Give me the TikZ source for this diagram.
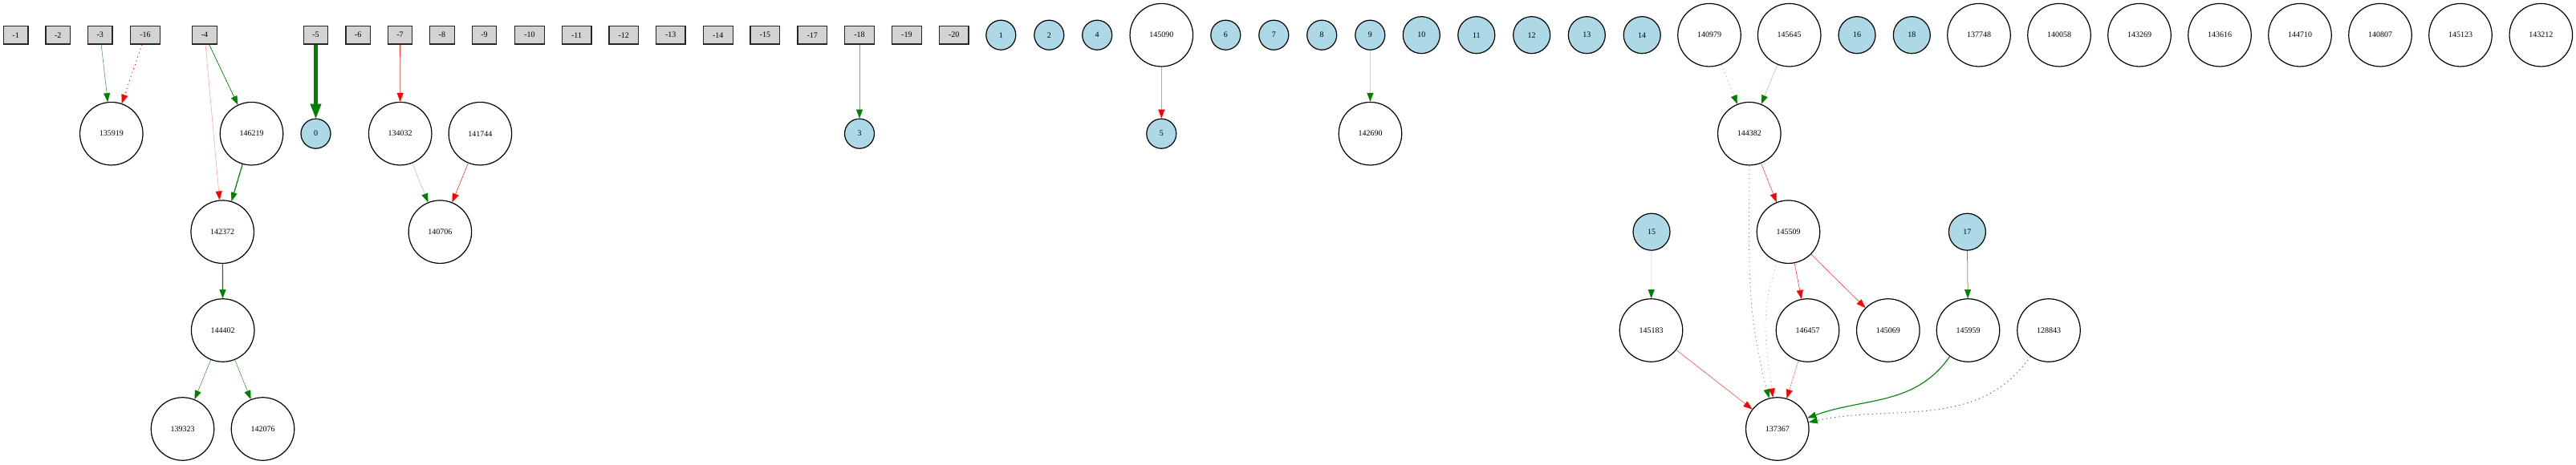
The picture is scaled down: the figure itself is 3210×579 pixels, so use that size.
\documentclass[tikz,border=0pt]{standalone}
\usepackage{fontspec}
\setmainfont{Liberation Serif}
\usetikzlibrary{arrows.meta}
\definecolor{ggreen}{HTML}{008000}
\definecolor{rred}{HTML}{FF0000}
\definecolor{lgray}{HTML}{D3D3D3}
\definecolor{lblue}{HTML}{ADD8E6}
\tikzset{
 every node/.style={font=\fontsize{10}{12}\selectfont, inner sep=0pt},
 inbox/.style={rectangle, draw=black!85, line width=1.3pt, fill=lgray, minimum width=30.5pt, minimum height=22.5pt},
 inboxw/.style={inbox, minimum width=36.7pt},
 outn/.style={circle, draw=black, line width=1.2pt, fill=lblue, minimum size=37pt},
 outw/.style={outn, minimum size=46pt},
 hid/.style={circle, draw=black, line width=1.2pt, fill=white, minimum size=78.5pt},
 ge/.style={draw=ggreen!#1, line width=0.6pt, -{Triangle[length=11pt,width=8pt,line width=0.4pt,color=ggreen]}},
 ge/.default=100,
 re/.style={draw=rred!#1, line width=0.6pt, -{Triangle[length=11pt,width=8pt,line width=0.4pt,color=rred]}},
 re/.default=100,
 dots/.style={dash pattern=on 1.2pt off 4pt},
}
\begin{document}
\begin{tikzpicture}[x=1pt,y=-1pt]
\useasboundingbox (0,0) rectangle (3210,579);
% input boxes
\node[inbox] (m1) at (19.6,43.7) {-1};
\node[inbox] (m2) at (72.3,43.7) {-2};
\node[inbox] (m3) at (124.8,43.7) {-3};
\node[inboxw] (m16) at (181,43.7) {-16};
\node[inbox] (m4) at (255,43.7) {-4};
\node[inbox] (m5) at (393.5,43.7) {-5};
\node[inbox] (m6) at (446.1,43.7) {-6};
\node[inbox] (m7) at (498.5,43.7) {-7};
\node[inbox] (m8) at (550.9,43.7) {-8};
\node[inbox] (m9) at (603.5,43.7) {-9};
\node[inboxw] (m10) at (660,43.7) {-10};
\node[inboxw] (m11) at (718.6,43.7) {-11};
\node[inboxw] (m12) at (777.2,43.7) {-12};
\node[inboxw] (m13) at (835.7,43.7) {-13};
\node[inboxw] (m14) at (894.8,43.7) {-14};
\node[inboxw] (m15) at (953.4,43.7) {-15};
\node[inboxw] (m17) at (1012.2,43.7) {-17};
\node[inboxw] (m18) at (1071,43.7) {-18};
\node[inboxw] (m19) at (1129.9,43.7) {-19};
\node[inboxw] (m20) at (1188.7,43.7) {-20};
% top row outputs and hidden
\node[outn] (o1) at (1247.3,43.7) {1};
\node[outn] (o2) at (1307.3,43.7) {2};
\node[outn] (o4) at (1367.2,43.7) {4};
\node[hid] (h145090) at (1447.3,43.7) {145090};
\node[outn] (o6) at (1527.3,43.7) {6};
\node[outn] (o7) at (1587.3,43.7) {7};
\node[outn] (o8) at (1647.2,43.7) {8};
\node[outn] (o9) at (1707.3,43.7) {9};
\node[outw] (o10) at (1771.3,43.7) {10};
\node[outw] (o11) at (1839.8,43.7) {11};
\node[outw] (o12) at (1908.7,43.7) {12};
\node[outw] (o13) at (1977.3,43.7) {13};
\node[outw] (o14) at (2046.2,43.7) {14};
\node[hid] (h140979) at (2130,43.7) {140979};
\node[hid] (h145645) at (2229.7,43.7) {145645};
\node[outw] (o16) at (2314,43.7) {16};
\node[outw] (o18) at (2382.3,43.7) {18};
\node[hid] (h137748) at (2466,43.7) {137748};
\node[hid] (h140058) at (2566,43.7) {140058};
\node[hid] (h143269) at (2666,43.7) {143269};
\node[hid] (h143616) at (2766,43.7) {143616};
\node[hid] (h144710) at (2866,43.7) {144710};
\node[hid] (h140807) at (2966,43.7) {140807};
\node[hid] (h145123) at (3066,43.7) {145123};
\node[hid] (h143212) at (3166.3,43.7) {143212};
% row 1
\node[hid] (h135919) at (138.8,166.7) {135919};
\node[hid] (h146219) at (313.5,166.7) {146219};
\node[outn] (o0) at (393.5,166.7) {0};
\node[hid] (h134032) at (498.7,166.7) {134032};
\node[hid] (h141744) at (598.4,166.7) {141744};
\node[outn] (o3) at (1071,166.7) {3};
\node[outn] (o5) at (1447.3,166.7) {5};
\node[hid] (h142690) at (1707.5,166.7) {142690};
\node[hid] (h144382) at (2179.8,166.7) {144382};
% row 2
\node[hid] (h142372) at (277.2,289.2) {142372};
\node[hid] (h140706) at (548.4,289.2) {140706};
\node[outw] (o15) at (2058,289.2) {15};
\node[hid] (h145509) at (2228.5,289.2) {145509};
\node[outw] (o17) at (2451.4,289.2) {17};
% row 3
\node[hid] (h144402) at (277.7,412) {144402};
\node[hid] (h145183) at (2057.5,412) {145183};
\node[hid] (h146457) at (2252.5,412) {146457};
\node[hid] (h145069) at (2352.8,412) {145069};
\node[hid] (h145959) at (2452.5,412) {145959};
\node[hid] (h128843) at (2553,412) {128843};
% row 4
\node[hid] (h139323) at (227.5,535) {139323};
\node[hid] (h142076) at (327.5,535) {142076};
\node[hid] (h137367) at (2214.8,535) {137367};
% edges
\draw[ge=70] (m3) -- (h135919);
\draw[re, dots, line width=0.8pt] (m16) -- (h135919);
\draw[re=35] (m4) -- (h142372);
\draw[ge, line width=0.7pt] (m4) -- (h146219);
\draw[draw=ggreen, line width=4.5pt, -{Triangle[length=18pt,width=14pt,line width=0.4pt,color=ggreen]}] (m5) -- (o0);
\draw[ge, line width=1.2pt] (h146219) -- (h142372);
\draw[re=80] (m7) -- (h134032);
\draw[ge=40, line width=0.5pt] (h134032) -- (h140706);
\draw[re=80] (h141744) -- (h140706);
\draw[ge, line width=1.2pt] (h142372) -- (h144402);
\draw[ge=75] (h144402) -- (h139323);
\draw[ge=75] (h144402) -- (h142076);
\draw[ge=60] (m18) -- (o3);
\draw[re=45] (h145090) -- (o5);
\draw[ge=40, line width=0.5pt] (o9) -- (h142690);
\draw[ge=60, dots, line width=0.7pt] (h140979) -- (h144382);
\draw[ge=40, line width=0.5pt] (h145645) -- (h144382);
\draw[re=75] (h144382) -- (h145509);
\draw[ge=70, dots, line width=0.8pt] (h144382) to[out=-90,in=105] (h137367);
\draw[re=40, dots, line width=0.8pt] (h145509) to[out=-110,in=98] (h137367);
\draw[re=75] (h145509) -- (h146457);
\draw[re=80] (h145509) -- (h145069);
\draw[ge=25, line width=0.5pt] (o15) -- (h145183);
\draw[ge=70!black, line width=0.5pt] (o17) -- (h145959);
\draw[re=70] (h145183) -- (h137367);
\draw[re=50] (h146457) -- (h137367);
\draw[ge, line width=1.1pt] (h145959) to[out=-125,in=20] (h137367);
\draw[ge=85, dots, line width=1pt] (h128843) to[out=-125,in=12] (h137367);
\end{tikzpicture}
\end{document}
